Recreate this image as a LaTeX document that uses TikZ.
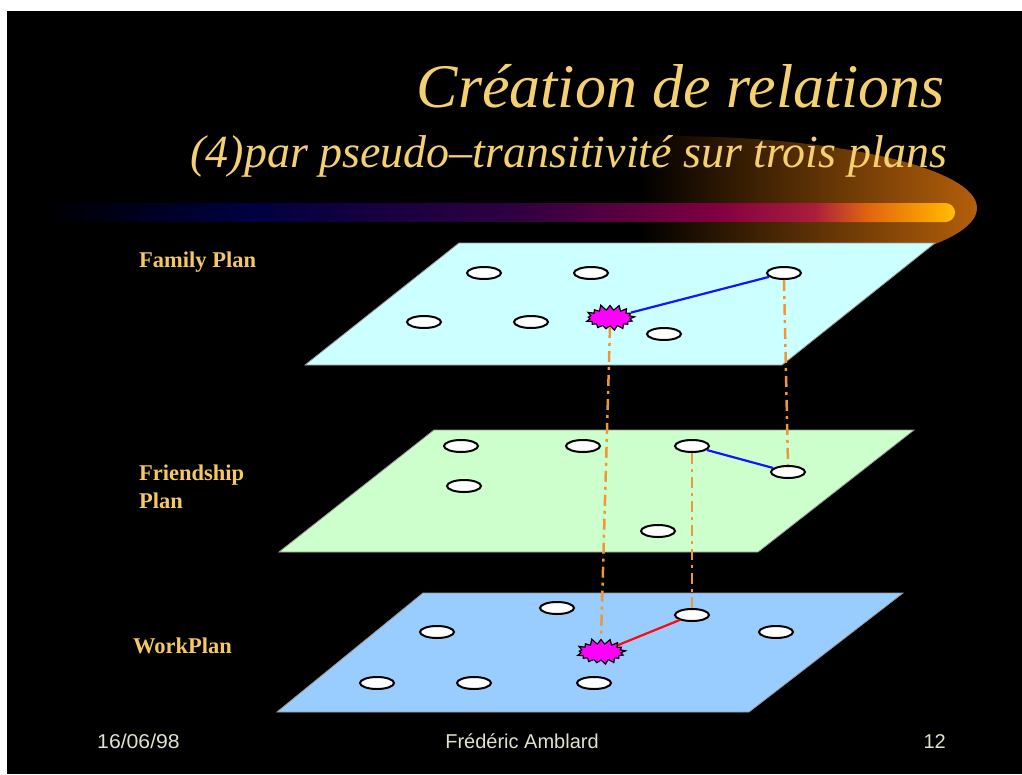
\documentclass[tikz,border=0pt]{standalone}
\usepackage{fontspec}
\setmainfont{Liberation Serif}
\newfontfamily\footfont{Liberation Sans}
\usetikzlibrary{shapes.geometric,shapes.symbols}
\definecolor{titlegold}{RGB}{245,208,112}
\definecolor{labelgold}{RGB}{245,200,100}
\definecolor{footgray}{RGB}{225,225,205}
\definecolor{famcol}{RGB}{204,255,255}
\definecolor{fricol}{RGB}{204,255,204}
\definecolor{workcol}{RGB}{153,204,255}
\definecolor{dashorange}{RGB}{240,150,50}
\definecolor{glowor}{RGB}{180,95,10}
\definecolor{hubmag}{RGB}{255,0,255}
\definecolor{linkblue}{RGB}{20,20,255}
\definecolor{linkred}{RGB}{255,10,10}
\definecolor{bnavy}{RGB}{0,0,64}
\definecolor{bpurple}{RGB}{48,0,64}
\definecolor{bcrimson}{RGB}{128,0,64}
\definecolor{bred}{RGB}{170,30,60}
\definecolor{borange}{RGB}{224,100,16}
\definecolor{bgold}{RGB}{255,176,0}
\definecolor{bgold2}{RGB}{255,190,20}
\pgfdeclarehorizontalshading{barshade}{100bp}{color(0bp)=(black); color(25bp)=(black); color(36.4bp)=(bnavy); color(51.3bp)=(bpurple); color(62bp)=(bcrimson); color(67.3bp)=(bred); color(70.2bp)=(borange); color(74.4bp)=(bgold); color(75bp)=(bgold2); color(100bp)=(bgold2)}
\tikzset{
  person/.style={ellipse, draw=black, line width=2pt, fill=white, minimum width=34pt, minimum height=12pt, inner sep=0pt},
  hub/.style={starburst, draw=black, line width=1.2pt, fill=hubmag, minimum width=52pt, minimum height=28pt, inner sep=0pt, starburst points=17, starburst point height=6pt, random starburst=11},
  plane/.style={draw=gray!80, line width=0.8pt},
  link/.style={dashorange, line width=2.5pt, dash pattern=on 11pt off 5pt on 3pt off 5pt},
  planlabel/.style={text=labelgold, font=\fontsize{22.5}{26}\selectfont\bfseries, inner sep=0pt},
  foot/.style={text=footgray, font=\footfont\fontsize{20}{24}\selectfont, inner sep=0pt}
}
\begin{document}
\begin{tikzpicture}[x=1pt,y=-1pt]
\useasboundingbox (0,0) rectangle (1022,774);
\fill[white] (0,0) rectangle (1022,774);
\fill[black] (7,11) rectangle (1022,774);
% glow
\begin{scope}
  \clip (640,100) rectangle (1010,300);
  \clip (665,208) ellipse [x radius=312, y radius=72];
  \shade[left color=black, right color=glowor] (640,100) rectangle (978,300);
\end{scope}
% bar
\shade[shading=barshade, rounded corners=9.5pt] (40,203) rectangle (955,222);
% title
\node[anchor=base east, text=titlegold, inner sep=0pt, font=\fontsize{62}{62}\selectfont\itshape] (title) at (945,107) {Création de relations};
\node[anchor=base east, text=titlegold, inner sep=0pt, font=\fontsize{46}{46}\selectfont\itshape] (subtitle) at (948,167) {(4)par pseudo–transitivité sur trois plans};
% planes
\filldraw[plane, fill=famcol] (459,243) -- (935,243) -- (782,365) -- (305,365) -- cycle;
\filldraw[plane, fill=fricol] (434,430) -- (914,430) -- (758,552) -- (279,552) -- cycle;
\filldraw[plane, fill=workcol] (423,593) -- (903,593) -- (749,712) -- (277,712) -- cycle;
% labels
\node[planlabel, anchor=base west] (lfam) at (139,267) {Family Plan};
\node[planlabel, anchor=base west] (lfri) at (139,480) {Friendship};
\node[planlabel, anchor=base west] (lfri2) at (139,508) {Plan};
\node[planlabel, anchor=base west] (lwork) at (133,653) {WorkPlan};
% family nodes
\node[person] (f1) at (484,273) {};
\node[person] (f2) at (591,273) {};
\node[person] (f3) at (784,273) {};
\node[person] (f4) at (424,322) {};
\node[person] (f5) at (531,322) {};
\node[person] (f6) at (664,334) {};
\node[hub] (fs) at (610,318) {};
% friendship nodes
\node[person] (r1) at (461,446) {};
\node[person] (r2) at (583,446) {};
\node[person] (r3) at (692,446) {};
\node[person] (r4) at (788,472) {};
\node[person] (r5) at (464,486) {};
\node[person] (r6) at (658,531) {};
% work nodes
\node[person] (w1) at (557,608) {};
\node[person] (w2) at (692,615) {};
\node[person] (w3) at (437,632) {};
\node[person] (w4) at (776,632) {};
\node[person] (w5) at (377,683) {};
\node[person] (w6) at (474,683) {};
\node[person] (w7) at (594,683) {};
\node[hub] (ws) at (601,652) {};
% in-plane relations
\draw[linkblue, line width=2.2pt] (fs) -- (f3);
\draw[linkblue, line width=2.2pt] (r3) -- (r4);
\draw[linkred, line width=2.2pt] (ws) -- (w2);
% cross-plane links
\draw[link] (fs.south) -- (ws.north);
\draw[link] (f3.south) -- (r4.north);
\draw[link] (r3.south) -- (w2.north);
% footer
\node[foot, anchor=base west, xscale=1.06] (date) at (97,748) {16/06/98};
\node[foot, anchor=base] (author) at (522,748) {Frédéric Amblard};
\node[foot, anchor=base east] (page) at (946,748) {12};
\end{tikzpicture}
\end{document}
